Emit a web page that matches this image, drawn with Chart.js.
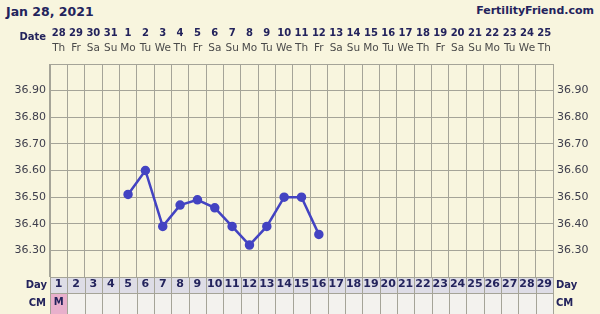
<!DOCTYPE html>
<html lang="en">
<head>
<meta charset="UTF-8">
<title>Fertility chart</title>
<script src="https://cdn.jsdelivr.net/npm/chart.js"></script>
<style>
  body { margin: 0; background: #f8f5de; }
  #wrap { position: relative; width: 600px; height: 314px; }
  .head { position: absolute; top: 4px; font: bold 12px "DejaVu Sans"; color: #23235c; }
  canvas { position: absolute; left: 0; top: 0; }
</style>
</head>
<body>
<div id="wrap">
  <div class="head" style="left:6px; font-size:12.5px">Jan 28, 2021</div>
  <div class="head" style="right:6px; font-size:11px">FertilityFriend.com</div>
  <canvas id="grafico" width="600" height="314"></canvas>
</div>
<script>
// dados
const datas = ['28','29','30','31','1','2','3','4','5','6','7','8','9','10','11','12','13','14','15','16','17','18','19','20','21','22','23','24','25'];
const diasSemana = ['Th','Fr','Sa','Su','Mo','Tu','We','Th','Fr','Sa','Su','Mo','Tu','We','Th','Fr','Sa','Su','Mo','Tu','We','Th','Fr','Sa','Su','Mo','Tu','We','Th'];
const diasCiclo = ['1','2','3','4','5','6','7','8','9','10','11','12','13','14','15','16','17','18','19','20','21','22','23','24','25','26','27','28','29'];
const muco = ['M','','','','','','','','','','','','','','','','','','','','','','','','','','','',''];
const temperaturas = [null,null,null,null,36.51,36.60,36.39,36.47,36.49,36.46,36.39,36.32,36.39,36.50,36.50,36.36,null,null,null,null,null,null,null,null,null,null,null,null,null];
const rotulosY = ['36.30','36.40','36.50','36.60','36.70','36.80','36.90'];

const fonte = '"DejaVu Sans"';
const corGrade = '#a5a498';
const corTexto = '#23235c';

function rotuloY(v) {
  const t = v.toFixed(2);
  return rotulosY.includes(t) ? t : '';
}

// fundo das linhas Day / CM e rotulos laterais
const linhasInferiores = {
  id: 'linhasInferiores',
  beforeDraw(chart) {
    const ctx = chart.ctx;
    const a = chart.chartArea;
    const x = chart.scales.x;
    const cm = chart.scales.xMuco;
    const w = (a.right - a.left) / diasCiclo.length;
    ctx.save();
    ctx.fillStyle = '#dedde6';
    ctx.fillRect(a.left, x.top, a.right - a.left, x.bottom - x.top);
    ctx.fillStyle = '#f3f2ee';
    ctx.fillRect(a.left, cm.top, a.right - a.left, cm.bottom - cm.top);
    for (let i = 0; i < muco.length; i++) {
      if (muco[i] === 'M') {
        ctx.fillStyle = '#e8b0cc';
        ctx.fillRect(x.getPixelForValue(i) - w / 2, cm.top, w, cm.bottom - cm.top);
      }
    }
    ctx.strokeStyle = corGrade;
    ctx.lineWidth = 1;
    ctx.beginPath();
    for (let i = 0; i <= diasCiclo.length; i++) {
      const px = Math.round(x.getPixelForValue(i) - w / 2) + 0.5;
      ctx.moveTo(px, x.top);
      ctx.lineTo(px, cm.bottom);
    }
    ctx.moveTo(a.left, Math.round(cm.top) + 0.5);
    ctx.lineTo(a.right, Math.round(cm.top) + 0.5);
    ctx.stroke();

    ctx.fillStyle = corTexto;
    ctx.font = 'bold 10px ' + fonte;
    ctx.textBaseline = 'middle';
    ctx.textAlign = 'right';
    ctx.fillText('Date', 46, 37);
    ctx.fillText('Day', 47, (x.top + x.bottom) / 2);
    ctx.fillText('CM', 46, (cm.top + cm.bottom) / 2);
    ctx.textAlign = 'left';
    ctx.fillText('Day', 556, (x.top + x.bottom) / 2);
    ctx.fillText('CM', 556, (cm.top + cm.bottom) / 2);
    ctx.restore();
  }
};

const ctx = document.getElementById('grafico').getContext('2d');
new Chart(ctx, {
  type: 'line',
  data: {
    labels: diasCiclo,
    datasets: [{
      data: temperaturas,
      borderColor: '#4343c2',
      backgroundColor: '#4343c2',
      borderWidth: 2.5,
      pointRadius: 3.5,
      tension: 0
    }]
  },
  plugins: [linhasInferiores],
  options: {
    responsive: false,
    animation: false,
    layout: { padding: { top: 20, left: 0, right: 0, bottom: 0 } },
    plugins: { legend: { display: false }, tooltip: { enabled: false } },
    scales: {
      x: {
        type: 'category', position: 'bottom', offset: true, weight: 1,
        grid: { offset: true, color: corGrade, drawTicks: false },
        border: { display: false },
        ticks: { autoSkip: false, maxRotation: 0, padding: 1, color: corTexto, font: { family: fonte, size: 11, weight: 'bold' } },
        afterFit: s => { s.height = 16; }
      },
      xMuco: {
        type: 'category', position: 'bottom', labels: muco, offset: true, weight: 2,
        grid: { display: false, drawTicks: false }, border: { display: false },
        ticks: { autoSkip: false, maxRotation: 0, padding: 3, color: corTexto, font: { family: fonte, size: 10, weight: 'bold' } },
        afterFit: s => { s.height = 21; }
      },
      xSemana: {
        type: 'category', position: 'top', labels: diasSemana, offset: true, weight: 1,
        grid: { display: false, drawTicks: false }, border: { display: false },
        ticks: { autoSkip: false, maxRotation: 0, padding: 9, color: '#4a4a4a', font: { family: fonte, size: 10.5 } },
        afterFit: s => { s.height = 22; }
      },
      xData: {
        type: 'category', position: 'top', labels: datas, offset: true, weight: 2,
        grid: { display: false, drawTicks: false }, border: { display: false },
        ticks: { autoSkip: false, maxRotation: 0, padding: 3, color: corTexto, font: { family: fonte, size: 10, weight: 'bold' } },
        afterFit: s => { s.height = 22; }
      },
      y: {
        min: 36.20, max: 37.00,
        grid: { color: corGrade, drawTicks: false },
        border: { color: corGrade },
        ticks: { stepSize: 0.05, padding: 4, color: '#3e3e4c', font: { family: fonte, size: 11 }, callback: rotuloY },
        afterFit: s => { s.width = 50; }
      },
      y2: {
        position: 'right', min: 36.20, max: 37.00,
        grid: { drawOnChartArea: false, drawTicks: false },
        border: { color: corGrade },
        ticks: { stepSize: 0.05, padding: 4, color: '#3e3e4c', font: { family: fonte, size: 11 }, callback: rotuloY },
        afterFit: s => { s.width = 47; }
      }
    }
  }
});
</script>
</body>
</html>
